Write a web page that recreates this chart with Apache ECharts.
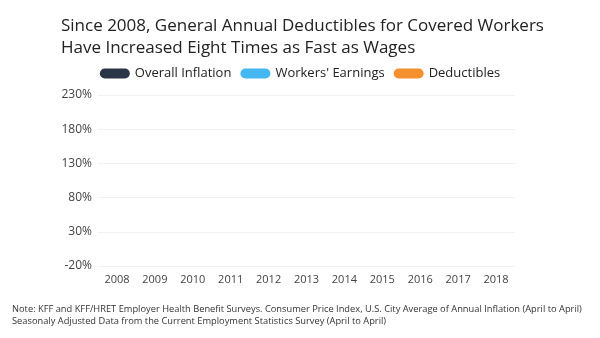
<!DOCTYPE html>
<html>
<head>
<meta charset="utf-8">
<script src="https://cdn.jsdelivr.net/npm/echarts@6/dist/echarts.min.js"></script>
<style>html,body{margin:0;padding:0;background:#fff}#c{width:600px;height:338px}</style>
</head>
<body>
<div id="c"></div>
<script>
var years = ['2008','2009','2010','2011','2012','2013','2014','2015','2016','2017','2018'];
var seriesNames = ['Overall Inflation', "Workers' Earnings", 'Deductibles'];
// The reference picture shows no plotted lines (only the legend), so the series hold no points.
var inflation = [];
var earnings = [];
var deductibles = [];
var yTicks = [-20, 30, 80, 130, 180, 230];

var FONT = '"Open Sans", "Noto Sans", sans-serif';
var PILL = 'path://M5,0 H25 A5,5 0 0 1 25,10 H5 A5,5 0 0 1 5,0 Z';
var chart = echarts.init(document.getElementById('c'), null, {renderer: 'canvas'});
chart.setOption({
  animation: false,
  color: ['#2a3548', '#44b8f0', '#f5902e'],
  title: {
    text: 'Since 2008, General Annual Deductibles for Covered Workers\nHave Increased Eight Times as Fast as Wages',
    left: 56, top: 10,
    textStyle: {fontFamily: FONT, fontSize: 17, fontWeight: 'normal', color: '#222', lineHeight: 22}
  },
  legend: {
    data: seriesNames,
    top: 62, left: 'center',
    itemWidth: 30, itemHeight: 10, itemGap: 9,
    icon: PILL,
    textStyle: {fontFamily: FONT, fontSize: 13, color: '#222'}
  },
  graphic: [{
    type: 'text', left: 12, top: 303,
    style: {
      text: 'Note: KFF and KFF/HRET Employer Health Benefit Surveys. Consumer Price Index, U.S. City Average of Annual Inflation (April to April)\nSeasonaly Adjusted Data from the Current Employment Statistics Survey (April to April)',
      font: '9.3px ' + FONT, fill: '#333', lineHeight: 12
    }
  }],
  grid: {left: 98, right: 85, top: 95, bottom: 72},
  xAxis: {
    type: 'category', data: years, boundaryGap: true,
    axisLine: {show: false}, axisTick: {show: false},
    axisLabel: {fontFamily: FONT, fontSize: 11, color: '#444', margin: 8}
  },
  yAxis: {
    type: 'value', min: yTicks[0], max: yTicks[yTicks.length - 1], interval: 50,
    axisLabel: {formatter: '{value}%', fontFamily: FONT, fontSize: 12, color: '#444', margin: 6},
    splitLine: {lineStyle: {color: '#f2f2f2', width: 1}},
    axisLine: {show: false}, axisTick: {show: false}
  },
  series: [
    {name: seriesNames[0], type: 'line', data: inflation, showSymbol: false},
    {name: seriesNames[1], type: 'line', data: earnings, showSymbol: false},
    {name: seriesNames[2], type: 'line', data: deductibles, showSymbol: false}
  ]
});
</script>
</body>
</html>
